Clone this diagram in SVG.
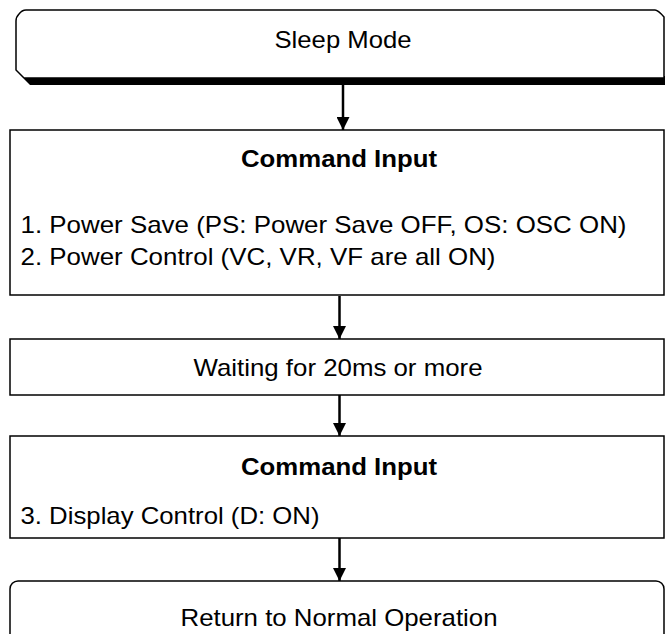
<svg xmlns="http://www.w3.org/2000/svg" width="665" height="634" viewBox="0 0 665 634">
<style>
  .box { fill: #ffffff; stroke: #000000; stroke-width: 1.5; }
  .t { font-family: "Liberation Sans", Arial, sans-serif; font-size: 24px; fill: #000000; }
  .b { font-weight: bold; }
  .conn line { stroke: #000000; stroke-width: 2.5; }
</style>
<defs>
  <marker id="ah" viewBox="0 0 13 13" refX="13" refY="6.5" markerWidth="13" markerHeight="13" markerUnits="userSpaceOnUse" orient="auto">
    <path d="M0,0 L13,6.5 L0,13 Z" fill="#000000"/>
  </marker>
</defs>
<rect x="0" y="0" width="665" height="634" fill="#ffffff"/>

<g id="sleep-mode">
  <path d="M24,76 H666 V85 H30 L24,79 Z" fill="#000000"/>
  <path class="box" d="M26,10 H655 Q658,10 664,17 V78 H24 L16,70 V21 Q16,17 19,14 Q22,10 26,10 Z"/>
  <text class="t" x="343" y="48" text-anchor="middle" textLength="137" lengthAdjust="spacingAndGlyphs">Sleep Mode</text>
</g>

<g id="command-input-1">
  <rect class="box" x="10" y="130" width="654" height="165"/>
  <text class="t b" x="339" y="167" text-anchor="middle" textLength="196" lengthAdjust="spacingAndGlyphs">Command Input</text>
  <text class="t" x="20.5" y="233" textLength="606" lengthAdjust="spacingAndGlyphs">1. Power Save (PS: Power Save OFF, OS: OSC ON)</text>
  <text class="t" x="20.5" y="265" textLength="475" lengthAdjust="spacingAndGlyphs">2. Power Control (VC, VR, VF are all ON)</text>
</g>

<g id="waiting">
  <rect class="box" x="10" y="339" width="654" height="56"/>
  <text class="t" x="338" y="376" text-anchor="middle" textLength="289" lengthAdjust="spacingAndGlyphs">Waiting for 20ms or more</text>
</g>

<g id="command-input-2">
  <rect class="box" x="10" y="436" width="654" height="102"/>
  <text class="t b" x="339" y="475" text-anchor="middle" textLength="196" lengthAdjust="spacingAndGlyphs">Command Input</text>
  <text class="t" x="20.5" y="524" textLength="299" lengthAdjust="spacingAndGlyphs">3. Display Control (D: ON)</text>
</g>

<g id="return-normal">
  <rect class="box" x="10" y="581" width="654" height="70" rx="8" ry="8"/>
  <text class="t" x="339" y="626" text-anchor="middle" textLength="317" lengthAdjust="spacingAndGlyphs">Return to Normal Operation</text>
</g>

<g id="connectors" class="conn">
  <line x1="343" y1="85" x2="343" y2="130" marker-end="url(#ah)"/>
  <line x1="339.5" y1="296" x2="339.5" y2="339" marker-end="url(#ah)"/>
  <line x1="339.5" y1="395" x2="339.5" y2="436" marker-end="url(#ah)"/>
  <line x1="339.5" y1="538" x2="339.5" y2="581" marker-end="url(#ah)"/>
</g>
</svg>
